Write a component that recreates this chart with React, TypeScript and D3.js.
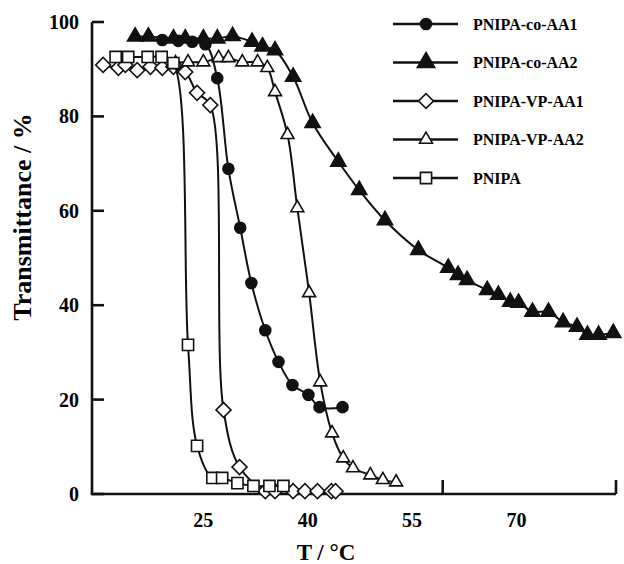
import React, { useEffect, useRef } from 'react';
import * as d3 from 'd3';

// series, in legend order
const seriesNames = ['PNIPA-co-AA1', 'PNIPA-co-AA2', 'PNIPA-VP-AA1', 'PNIPA-VP-AA2', 'PNIPA'];

const coAA1T = [19.1, 21.4, 23.4, 25.3, 27.0, 28.6, 30.3, 31.9, 33.9, 35.8, 37.8, 40.1, 41.7, 45.0];
const coAA1Y = [96.2, 96.0, 95.8, 95.3, 88.1, 68.9, 56.4, 44.7, 34.7, 28.0, 23.1, 21.0, 18.4, 18.4];

const coAA2T = [15.2, 17.1, 20.7, 22.4, 25.0, 27.0, 29.2, 32.0, 33.5, 35.3, 37.9, 40.7, 44.4, 47.4, 51.1,
  55.9, 60.2, 61.6, 62.9, 65.8, 67.4, 69.1, 70.3, 72.3, 74.6, 76.7, 78.7, 80.2, 81.8, 83.9];
const coAA2Y = [96.9, 96.9, 96.5, 96.5, 96.5, 96.5, 97.0, 95.8, 94.8, 94.0, 88.4, 78.6, 70.4, 64.4, 58.0,
  51.7, 47.9, 46.4, 45.3, 43.2, 42.2, 40.7, 40.5, 38.6, 38.6, 36.4, 35.4, 33.7, 33.7, 34.1];

const vpAA1T = [10.6, 12.8, 13.8, 15.5, 17.4, 19.1, 20.7, 22.4, 24.1, 26.0, 27.9, 30.2, 33.9, 35.3, 37.9, 39.6, 41.4, 43.4, 44.0];
const vpAA1Y = [90.9, 90.3, 90.9, 89.8, 90.5, 90.3, 90.5, 89.4, 85.0, 82.4, 17.8, 5.7, 0.6, 0.6, 0.6, 0.6, 0.6, 0.6, 0.6];

const vpAA2T = [21.0, 22.8, 25.0, 27.2, 28.6, 30.6, 32.8, 34.2, 35.3, 37.1, 38.5, 40.2, 41.8, 43.5, 45.1, 46.5, 49.0, 50.8, 52.7];
const vpAA2Y = [91.3, 91.5, 91.5, 92.4, 92.4, 91.5, 91.5, 90.3, 85.2, 76.1, 60.6, 42.6, 23.7, 12.9, 7.6, 5.5, 4.0, 3.0, 2.5];

const pnipaT = [12.4, 14.2, 17.0, 19.0, 20.7, 22.8, 24.1, 26.3, 27.7, 29.9, 32.2, 34.5, 36.5];
const pnipaY = [92.6, 92.6, 92.6, 92.6, 91.3, 31.6, 10.2, 3.4, 3.4, 2.3, 1.7, 1.7, 1.7];

const xTickLabels = [25, 40, 55, 70];
const xTickMarks = [59.4, 84.3];
const yTicks = [0, 20, 40, 60, 80, 100];

const seriesT = [coAA1T, coAA2T, vpAA1T, vpAA2T, pnipaT];
const seriesY = [coAA1Y, coAA2Y, vpAA1Y, vpAA2Y, pnipaY];

// marker look per series
const markers = [
  { type: d3.symbolCircle, size: 95, fill: '#111', rotate: 0 },
  { type: d3.symbolTriangle, size: 100, fill: '#111', rotate: 0 },
  { type: d3.symbolSquare, size: 112, fill: '#fff', rotate: 45 },
  { type: d3.symbolTriangle, size: 72, fill: '#fff', rotate: 0 },
  { type: d3.symbolSquare, size: 125, fill: '#fff', rotate: 0 },
];

const font = '"Liberation Serif", "Times New Roman", serif';

const App = () => {
  const chartRef = useRef<HTMLDivElement>(null);

  useEffect(() => {
    document.body.style.margin = '0';
    const width = 624;
    const height = 564;
    const left = 92, right = 616, top = 22, bottom = 494;

    d3.select(chartRef.current).selectAll('svg').remove();

    const svg = d3.select(chartRef.current)
      .append('svg')
      .attr('width', width)
      .attr('height', height)
      .style('display', 'block')
      .style('background', '#fff');

    const x = d3.scaleLinear().domain([9, 84.3]).range([left, right]);
    const y = d3.scaleLinear().domain([0, 100]).range([bottom, top]);

    // axes
    const axis = svg.append('g').attr('stroke', '#111').attr('stroke-width', 2.6);
    axis.append('line').attr('x1', left).attr('x2', left).attr('y1', y(100)).attr('y2', bottom);
    axis.append('line').attr('x1', left - 1.3).attr('x2', right).attr('y1', bottom).attr('y2', bottom);
    axis.selectAll('.ytick')
      .data(yTicks)
      .enter()
      .append('line')
      .attr('x1', left)
      .attr('x2', left + 12)
      .attr('y1', d => y(d))
      .attr('y2', d => y(d));
    axis.selectAll('.xtick')
      .data(xTickMarks)
      .enter()
      .append('line')
      .attr('x1', d => x(d))
      .attr('x2', d => x(d))
      .attr('y1', bottom)
      .attr('y2', bottom - 14);

    svg.selectAll('.ylab')
      .data(yTicks)
      .enter()
      .append('text')
      .attr('x', 79)
      .attr('y', d => y(d))
      .attr('dy', '0.35em')
      .attr('text-anchor', 'end')
      .attr('font-family', font)
      .attr('font-weight', 'bold')
      .attr('font-size', 20)
      .text(d => d);

    svg.selectAll('.xlab')
      .data(xTickLabels)
      .enter()
      .append('text')
      .attr('x', d => x(d))
      .attr('y', 527)
      .attr('text-anchor', 'middle')
      .attr('font-family', font)
      .attr('font-weight', 'bold')
      .attr('font-size', 20)
      .text(d => d);

    svg.append('text')
      .attr('transform', `translate(31,217) rotate(-90)`)
      .attr('text-anchor', 'middle')
      .attr('font-family', font)
      .attr('font-weight', 'bold')
      .attr('font-size', 26)
      .text('Transmittance / %');

    svg.append('text')
      .attr('x', 326)
      .attr('y', 560)
      .attr('text-anchor', 'middle')
      .attr('font-family', font)
      .attr('font-weight', 'bold')
      .attr('font-size', 23)
      .text('T / °C');

    const line = d3.line<[number, number]>()
      .x(d => x(d[0]))
      .y(d => y(d[1]))
      .curve(d3.curveCatmullRom.alpha(0.5));

    seriesNames.forEach((name, i) => {
      const pts: [number, number][] = seriesT[i].map((t, j) => [t, seriesY[i][j]]);
      const m = markers[i];
      const g = svg.append('g');
      g.append('path')
        .attr('d', line(pts))
        .attr('fill', 'none')
        .attr('stroke', '#111')
        .attr('stroke-width', 2);
      g.selectAll('path.mk')
        .data(pts)
        .enter()
        .append('path')
        .attr('class', 'mk')
        .attr('d', d3.symbol().type(m.type).size(m.size)())
        .attr('transform', d => `translate(${x(d[0])},${y(d[1])}) rotate(${m.rotate})`)
        .attr('fill', m.fill)
        .attr('stroke', '#111')
        .attr('stroke-width', 1.6);
    });

    // legend
    const legend = svg.append('g');
    seriesNames.forEach((name, i) => {
      const ly = 24 + i * 38.5;
      const m = markers[i];
      legend.append('line')
        .attr('x1', 393).attr('x2', 458)
        .attr('y1', ly).attr('y2', ly)
        .attr('stroke', '#111')
        .attr('stroke-width', 2.4);
      legend.append('path')
        .attr('d', d3.symbol().type(m.type).size(m.size * (i === 1 ? 1.3 : 1))())
        .attr('transform', `translate(426,${ly}) rotate(${m.rotate})`)
        .attr('fill', m.fill)
        .attr('stroke', '#111')
        .attr('stroke-width', 1.6);
      legend.append('text')
        .attr('x', 473)
        .attr('y', ly)
        .attr('dy', '0.35em')
        .attr('font-family', font)
        .attr('font-weight', 'bold')
        .attr('font-size', 16)
        .text(name);
    });
  }, []);

  return <div ref={chartRef}></div>;
};

export default App;
